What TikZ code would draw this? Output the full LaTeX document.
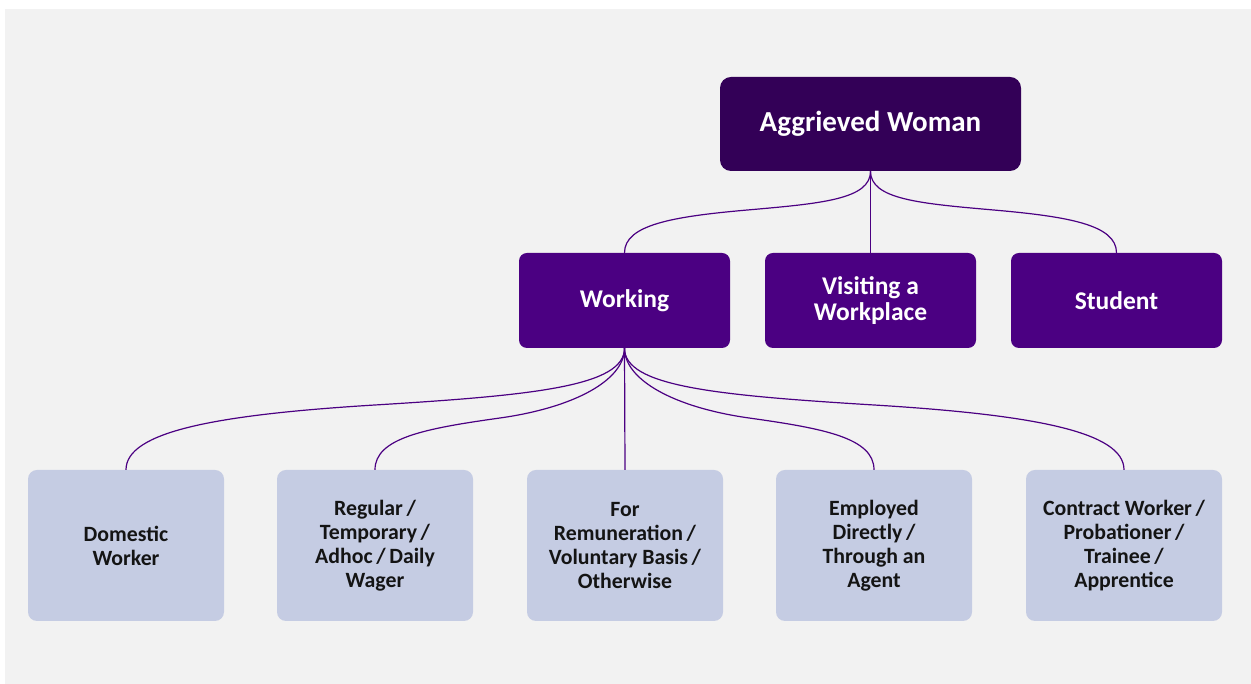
\documentclass[tikz,border=0pt]{standalone}
\usepackage{fontspec}
\setmainfont{Carlito}
\definecolor{bgc}{HTML}{F2F2F2}
\definecolor{topc}{HTML}{330057}
\definecolor{midc}{HTML}{4B0082}
\definecolor{lowc}{HTML}{C5CCE3}
\definecolor{linec}{HTML}{4B0082}
\definecolor{txtc}{HTML}{141414}
\begin{document}
\begin{tikzpicture}[x=1pt,y=1pt,
  topbox/.style={fill=topc,rounded corners=11pt,minimum width=301pt,minimum height=94pt,inner sep=0pt,
    text=white,align=center,font=\bfseries\fontsize{29}{32}\selectfont},
  midbox/.style={fill=midc,rounded corners=8pt,minimum width=211pt,minimum height=95pt,inner sep=0pt,
    text=white,align=center,font=\bfseries\fontsize{25.5}{26}\selectfont},
  lowbox/.style={fill=lowc,rounded corners=9pt,minimum width=196pt,minimum height=151pt,inner sep=0pt,
    text=txtc,align=center,font=\bfseries\fontsize{21.8}{24}\selectfont},
  conn/.style={draw=linec,line width=1.2pt}]
\useasboundingbox (0,0) rectangle (1251,684);
\fill[bgc] (5,0) rectangle (1251,675);

\node[topbox] (aw) at (870.5,560) {Aggrieved Woman};

\node[midbox] (wk) at (624.5,383.5) {Working};
\node[midbox] (vw) at (870.5,383.5) {Visiting a\\Workplace};
\node[midbox] (st) at (1116.5,383.5) {Student};

\node[lowbox] (dw) at (126,138.5) {Domestic\\Worker};
\node[lowbox] (rg) at (375,138.5) {Regular\,/\\Temporary\,/\\Adhoc\,/\,Daily\\Wager};
\node[lowbox] (fr) at (625,138.5) {For\\Remuneration\,/\\Voluntary Basis\,/\\Otherwise};
\node[lowbox] (ed) at (874,138.5) {Employed\\Directly\,/\\Through an\\Agent};
\node[lowbox] (cw) at (1124,138.5) {Contract Worker\,/\\Probationer\,/\\Trainee\,/\\Apprentice};

\coordinate (m1) at (747.5,474);
\coordinate (m2) at (993.5,474);
\coordinate (b1) at (375,279);
\coordinate (b2) at (500,266);
\coordinate (b3) at (749,266);
\coordinate (b4) at (874,279);

\draw[conn] (aw.south) to[out=-90,in=5,out distance=28pt,in distance=75pt] (m1)
  to[out=185,in=90,out distance=75pt,in distance=28pt] (wk.north);
\draw[conn] (aw.south) -- (vw.north);
\draw[conn] (aw.south) to[out=-90,in=175,out distance=28pt,in distance=75pt] (m2)
  to[out=-5,in=90,out distance=75pt,in distance=28pt] (st.north);

\draw[conn] (wk.south) to[out=-90,in=3.5,out distance=38pt,in distance=160pt] (b1)
  to[out=183.5,in=90,out distance=160pt,in distance=38pt] (dw.north);
\draw[conn] (wk.south) to[out=-90,in=8,out distance=32pt,in distance=75pt] (b2)
  to[out=188,in=90,out distance=75pt,in distance=32pt] (rg.north);
\draw[conn] (wk.south) -- (fr.north);
\draw[conn] (wk.south) to[out=-90,in=172,out distance=32pt,in distance=75pt] (b3)
  to[out=-8,in=90,out distance=75pt,in distance=32pt] (ed.north);
\draw[conn] (wk.south) to[out=-90,in=176.5,out distance=38pt,in distance=160pt] (b4)
  to[out=-3.5,in=90,out distance=160pt,in distance=38pt] (cw.north);
\end{tikzpicture}
\end{document}
